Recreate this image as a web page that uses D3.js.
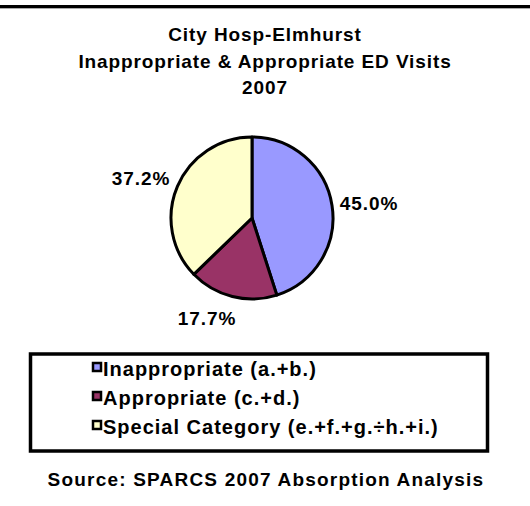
<!DOCTYPE html>
<html lang="en">
<head>
  <meta charset="UTF-8">
  <title>City Hosp-Elmhurst ED Visits 2007</title>
  <script src="https://d3js.org/d3.v7.min.js"></script>
  <style>
    body {
      margin: 0;
      background: #fff;
    }
    svg text {
      font-family: "Liberation Sans", Arial, sans-serif;
      font-weight: bold;
      fill: #000;
      letter-spacing: 0.9px;
    }
  </style>
</head>
<body>
  <svg id="chart" width="530" height="506"></svg>

  <script>
    const categories = ["Inappropriate (a.+b.)", "Appropriate (c.+d.)", "Special Category (e.+f.+g.\u00f7h.+i.)"];
    const shares = [45.0, 17.7, 37.2];
    const colors = ["#9999FF", "#993366", "#FFFFCC"];
    const titleLines = ["City Hosp-Elmhurst", "Inappropriate & Appropriate ED Visits", "2007"];
    const sourceText = "Source: SPARCS 2007 Absorption Analysis";

    const W = 530, H = 506;
    const svg = d3.select("#chart");

    svg.append("rect").attr("width", W).attr("height", H).attr("fill", "#fff");

    // thick rule across the top
    svg.append("rect").attr("x", 0).attr("y", 5).attr("width", W).attr("height", 3).attr("fill", "#000");
    svg.append("rect").attr("x", 0).attr("y", 8).attr("width", W).attr("height", 1).attr("fill", "#aaa");

    // title
    svg.append("g").selectAll("text")
      .data(titleLines)
      .join("text")
      .attr("x", 265)
      .attr("y", (d, i) => 41 + i * 26.5)
      .attr("text-anchor", "middle")
      .attr("font-size", 19)
      .text(d => d);

    // pie
    const data = categories.map((c, i) => ({ name: c, value: shares[i], color: colors[i] }));
    const cx = 252, cy = 218, r = 81;
    const pie = d3.pie().sort(null).value(d => d.value);
    const arc = d3.arc().innerRadius(0).outerRadius(r);
    const arcs = pie(data);

    const g = svg.append("g").attr("transform", `translate(${cx},${cy})`);
    g.selectAll("path")
      .data(arcs)
      .join("path")
      .attr("d", arc)
      .attr("fill", d => d.data.color)
      .attr("stroke", "#000")
      .attr("stroke-width", 3)
      .attr("stroke-linejoin", "round");

    // percentage labels
    const labelPos = [[369, 210], [207, 325], [141, 185]];
    g.selectAll("text")
      .data(arcs)
      .join("text")
      .attr("x", (d, i) => labelPos[i][0] - cx)
      .attr("y", (d, i) => labelPos[i][1] - cy)
      .attr("text-anchor", "middle")
      .attr("font-size", 19)
      .text(d => d3.format(".1f")(d.data.value) + "%");

    // legend
    svg.append("rect")
      .attr("x", 30.5).attr("y", 354)
      .attr("width", 457).attr("height", 97)
      .attr("fill", "none")
      .attr("stroke", "#000")
      .attr("stroke-width", 3.5);

    const lg = svg.append("g").selectAll("g")
      .data(data)
      .join("g")
      .attr("transform", (d, i) => `translate(93,${376 + i * 29})`);

    lg.append("rect")
      .attr("x", 0).attr("y", -13)
      .attr("width", 8).attr("height", 8)
      .attr("fill", d => d.color)
      .attr("stroke", "#000")
      .attr("stroke-width", 2.5);

    lg.append("text")
      .attr("x", 10)
      .attr("y", 0)
      .attr("font-size", 20)
      .style("letter-spacing", "1px")
      .text(d => d.name);

    // source note
    svg.append("text")
      .attr("x", 266)
      .attr("y", 486)
      .attr("text-anchor", "middle")
      .attr("font-size", 19)
      .style("letter-spacing", "1.2px")
      .text(sourceText);
  </script>
</body>
</html>
